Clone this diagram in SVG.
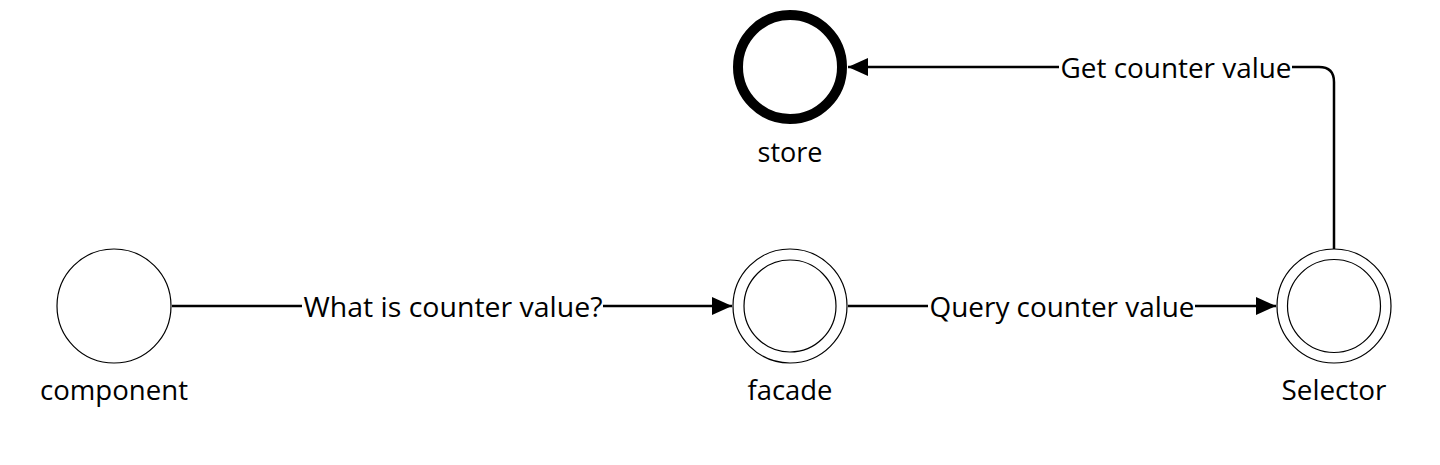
<svg xmlns="http://www.w3.org/2000/svg" width="1440" height="465" viewBox="0 0 1440 465">
<style>
.n{fill:#fff;stroke:#000;stroke-width:1.2}
.e{fill:none;stroke:#000;stroke-width:2.5}
.t{font-family:"Open Sans","Liberation Sans",sans-serif;font-size:27px;fill:#000;text-anchor:middle;dominant-baseline:central}
.bg{fill:#fff}
</style>
<defs>
<marker id="ah" markerWidth="20" markerHeight="18" refX="20" refY="9" orient="auto" markerUnits="userSpaceOnUse">
<path d="M0,0 L20,9 L0,18 Z" fill="#000"/>
</marker>
</defs>
<rect width="1440" height="465" fill="#fff"/>
<g id="connectors">
<path class="e" d="M172,306 H732" marker-end="url(#ah)"/>
<path class="e" d="M848,306 H1276" marker-end="url(#ah)"/>
<path class="e" d="M1334,249 V82 Q1334,67 1319,67 H848" marker-end="url(#ah)"/>
<rect class="bg" x="302" y="290" width="301" height="32"/>
<text class="t" x="453" y="306" textLength="299" lengthAdjust="spacingAndGlyphs">What is counter value?</text>
<rect class="bg" x="928" y="290" width="267" height="32"/>
<text class="t" x="1062" y="306" textLength="265" lengthAdjust="spacingAndGlyphs">Query counter value</text>
<rect class="bg" x="1059" y="51" width="233" height="32"/>
<text class="t" x="1176" y="67" textLength="231" lengthAdjust="spacingAndGlyphs">Get counter value</text>
</g>
<g id="store">
<circle cx="790" cy="67" r="52" fill="#fff" stroke="#000" stroke-width="10"/>
<text class="t" x="790" y="151" textLength="65" lengthAdjust="spacingAndGlyphs">store</text>
</g>
<g id="component">
<circle class="n" cx="114" cy="306" r="57"/>
<text class="t" x="114" y="389" textLength="148" lengthAdjust="spacingAndGlyphs">component</text>
</g>
<g id="facade">
<circle class="n" cx="790" cy="306" r="57"/>
<circle class="n" cx="790" cy="306" r="46"/>
<text class="t" x="790" y="389" textLength="85" lengthAdjust="spacingAndGlyphs">facade</text>
</g>
<g id="Selector">
<circle class="n" cx="1334" cy="306" r="57"/>
<circle class="n" cx="1334" cy="306" r="46.5"/>
<text class="t" x="1334" y="389" textLength="105" lengthAdjust="spacingAndGlyphs">Selector</text>
</g>
</svg>
